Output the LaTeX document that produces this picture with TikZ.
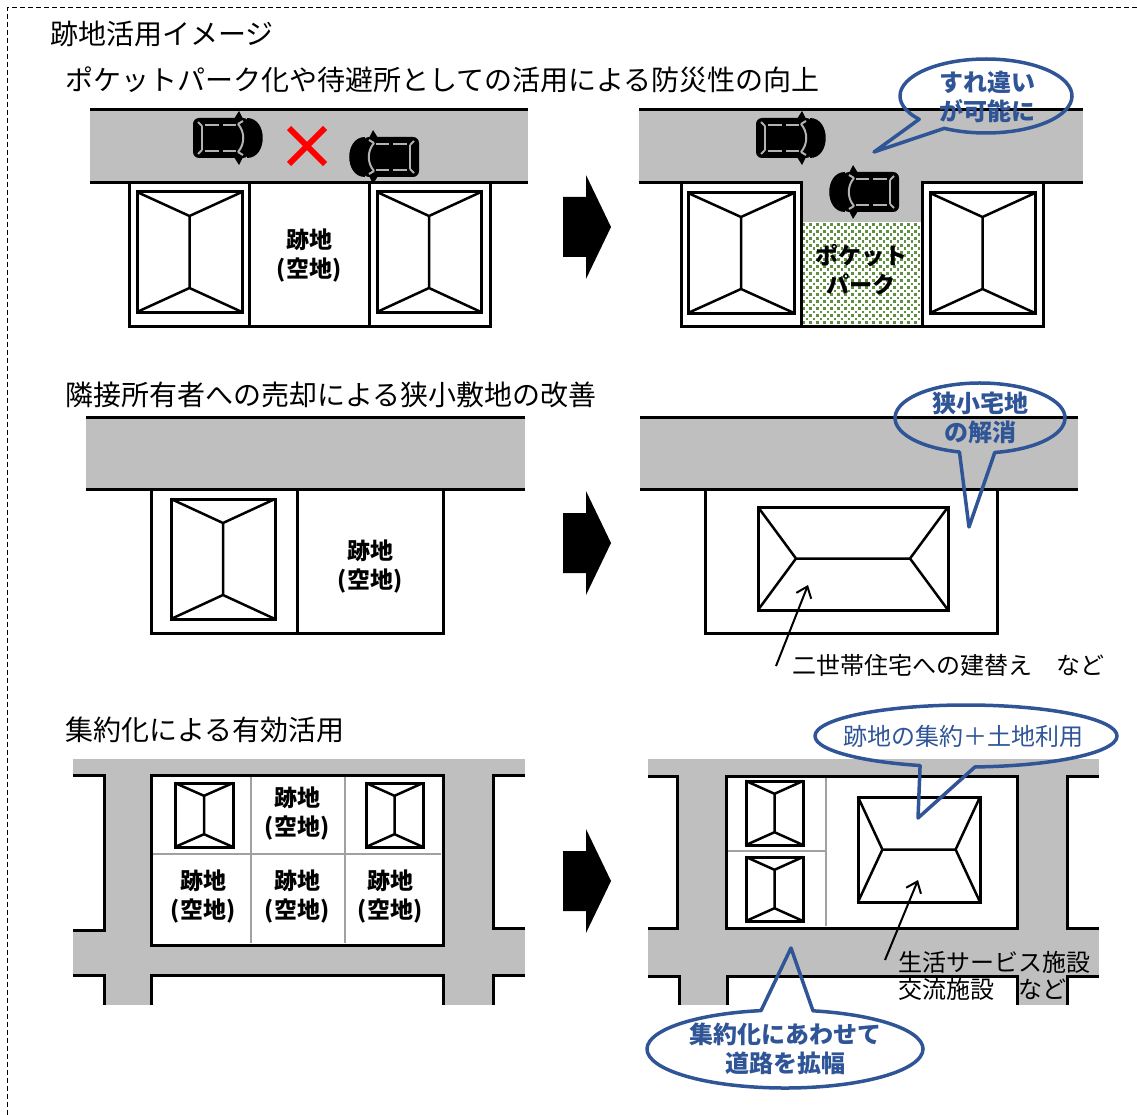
\documentclass[tikz,border=0pt]{standalone}
\usepackage{fontspec}
\setmainfont{Noto Sans CJK JP}
\usetikzlibrary{arrows.meta}

\definecolor{roadgray}{RGB}{191,191,191}
\definecolor{callblue}{RGB}{47,85,151}
\definecolor{parkgreen}{RGB}{94,146,62}

% hip roof, ridge running up-down / left-right
\newcommand\tallhouse[4]{%
  \pgfmathsetmacro\hmid{(#1+#3)/2}%
  \pgfmathsetmacro\hone{#2+0.2*(#4-#2)}%
  \pgfmathsetmacro\htwo{#4-0.2*(#4-#2)}%
  \draw[house] (#1,#2) rectangle (#3,#4);
  \draw[ridge] (#1,#2) -- (\hmid,\hone) -- (#3,#2)
    (\hmid,\hone) -- (\hmid,\htwo)
    (#1,#4) -- (\hmid,\htwo) -- (#3,#4);
}
\newcommand\widehouse[4]{%
  \pgfmathsetmacro\hmid{(#2+#4)/2}%
  \pgfmathsetmacro\hone{#1+0.2*(#3-#1)}%
  \pgfmathsetmacro\htwo{#3-0.2*(#3-#1)}%
  \draw[house] (#1,#2) rectangle (#3,#4);
  \draw[ridge] (#1,#2) -- (\hone,\hmid) -- (#1,#4)
    (\hone,\hmid) -- (\htwo,\hmid)
    (#3,#2) -- (\htwo,\hmid) -- (#3,#4);
}

\begin{document}
\begin{tikzpicture}[x=1pt,y=-1pt,
  road/.style={fill=roadgray},
  border/.style={line width=3pt},
  lot/.style={fill=white, draw, line width=3pt},
  house/.style={fill=white, draw, line width=3pt},
  ridge/.style={line width=2.5pt, line join=round},
  cell/.style={draw=black!37, line width=1.5pt},
  glass/.style={draw=black!30, line width=2pt},
  heading/.style={anchor=west, inner sep=0pt, font=\fontsize{28}{34}\selectfont},
  lbl/.style={align=center, inner sep=0pt, font=\fontsize{23}{29}\selectfont\bfseries},
  note/.style={anchor=west, align=left, inner sep=0pt, font=\fontsize{24}{27}\selectfont},
  calltext/.style={align=center, inner sep=0pt, text=callblue, font=\fontsize{24}{29}\selectfont\bfseries},
  bubble/.style={draw=callblue, line width=3.5pt, line join=round},
  pointer/.style={->, line width=2pt},
  >={Straight Barb[length=10pt,width=16pt]},
  pics/car/.style={code={
    \fill[rounded corners=6] (-36,-20) rectangle (20,20);
    \fill (18,-20) .. controls (39,-20) and (39,20) .. (18,20) -- cycle;
    \fill (5,-19) -- (10,-27) -- (14,-19) -- cycle;
    \fill (5,19) -- (10,27) -- (14,19) -- cycle;
    \draw[glass] (-27,-12) -- (-27,12);
    \draw[glass] (9,-14) .. controls (16,-6) and (16,6) .. (9,14);
    \draw[glass] (-24,-13) -- (-10,-13) (-6,-13) -- (7,-13)
      (-24,13) -- (-10,13) (-6,13) -- (7,13);
    \draw[glass] (-27,-12) -- (-31,-16) (-27,12) -- (-31,16)
      (9,-14) -- (14,-17) (9,14) -- (14,17);
  }}
]
\useasboundingbox (0,0) rectangle (1137,1115);
\draw[dash pattern=on 5pt off 3pt, line width=1pt] (7,1115) -- (7,8) -- (1137,8);

\node[heading] (title) at (50,34) {跡地活用イメージ};
\node[heading] (headA) at (65,80) {ポケットパーク化や待避所としての活用による防災性の向上};
\node[heading] (headB) at (65,395) {隣接所有者への売却による狭小敷地の改善};
\node[heading] (headC) at (65,730) {集約化による有効活用};

% before / after arrows
\foreach \ay in {227,543,881}
  \fill[shift={(0,\ay)}] (563,-30) -- (586,-30) -- (586,-52) -- (611,0)
    -- (586,52) -- (586,30) -- (563,30) -- cycle;

%% pocket park, before
\fill[road] (90,110) rectangle (528,183);
\draw[border] (90,110) -- (528,110) (90,183) -- (528,183);
\draw[lot] (129,183) rectangle (249,326);
\draw[lot] (249,183) rectangle (369,326);
\draw[lot] (369,183) rectangle (490,326);
\tallhouse{137}{192}{242}{312}
\tallhouse{377}{192}{481}{312}
\node[lbl] (vacantA) at (309,256) {跡地\\(空地)};
\pic at (229,138) {car};
\pic[xscale=-1] at (383,157) {car};
\draw[red, line width=6pt] (289,128) -- (325,164) (289,164) -- (325,128);

%% pocket park, after
\fill[road] (639,110) rectangle (1083,183);
\fill[road] (801,183) rectangle (922,222);
\draw[border] (639,110) -- (1083,110) (639,183) -- (681,183) (1043,183) -- (1083,183);
\fill[white] (801,222) rectangle (922,326);
\begin{scope}
  \clip (801,222) rectangle (922,326);
  \foreach \i in {0,...,17} \foreach \j in {0,...,30} {
    \pgfmathsetmacro\px{802+7*\i+3.5*mod(\j,2)}
    \fill[parkgreen] (\px,223+3.5*\j) rectangle ++(2.8,2.8);
  }
\end{scope}
\draw[border] (801,326) -- (922,326);
\draw[lot] (681,183) rectangle (801,326);
\draw[lot] (922,183) rectangle (1043,326);
\tallhouse{688}{193}{794}{313}
\tallhouse{930}{193}{1035}{313}
\node[lbl] (park) at (861,270) {ポケット\\パーク};
\pic at (792,138) {car};
\pic[xscale=-1] at (863,192) {car};

%% sale to neighbour, before
\fill[road] (86,417) rectangle (525,489);
\draw[border] (86,417) -- (525,417) (86,489) -- (525,489);
\draw[lot] (151,489) rectangle (297,633);
\draw[lot] (297,489) rectangle (443,633);
\tallhouse{171}{499}{275}{619}
\node[lbl] (vacantB) at (370,567) {跡地\\(空地)};

%% sale to neighbour, after
\fill[road] (640,417) rectangle (1078,489);
\draw[border] (640,417) -- (1078,417) (640,489) -- (1078,489);
\draw[lot] (705,489) rectangle (997,633);
\widehouse{758}{507}{948}{610}
\node[note] (rebuild) at (792,665) {二世帯住宅への建替え　など};
\coordinate (rebuildFoot) at (776,666);
\coordinate (rebuildTip) at (808,585);
\draw[pointer] (rebuildFoot) -- (rebuildTip);

%% consolidation, before
\fill[road] (73,759) rectangle (525,1005);
\fill[white] (73,775) rectangle (104,930) (73,975) rectangle (104,1005)
  (493,775) rectangle (525,928) (493,975) rectangle (525,1005)
  (151,975) rectangle (443,1005);
\draw[border] (73,775) -- (104,775) -- (104,930) -- (73,930)
  (525,775) -- (493,775) -- (493,928) -- (525,928)
  (73,975) -- (104,975) -- (104,1005)
  (525,975) -- (493,975) -- (493,1005)
  (151,1005) -- (151,975) -- (443,975) -- (443,1005);
\draw[lot] (151,775) rectangle (443,945);
\draw[cell] (251,777) -- (251,943) (345,777) -- (345,943) (153,854) -- (441,854);
\tallhouse{175}{783}{233}{847}
\tallhouse{366}{783}{423}{847}
\node[lbl] (vacantC) at (297,814) {跡地\\(空地)};
\node[lbl] (vacantD) at (203,897) {跡地\\(空地)};
\node[lbl] (vacantE) at (297,897) {跡地\\(空地)};
\node[lbl] (vacantF) at (390,897) {跡地\\(空地)};

%% consolidation, after
\fill[road] (648,759) rectangle (1099,1005);
\fill[white] (648,776) rectangle (677,928) (648,976) rectangle (679,1005)
  (1067,776) rectangle (1099,928) (1067,976) rectangle (1099,1005)
  (727,976) rectangle (1017,1005);
\draw[border] (648,776) -- (677,776) -- (677,928) -- (648,928)
  (1099,776) -- (1067,776) -- (1067,928) -- (1099,928)
  (648,976) -- (679,976) -- (679,1005)
  (1099,976) -- (1067,976) -- (1067,1005)
  (727,1005) -- (727,976) -- (1017,976) -- (1017,1005);
\draw[lot] (726,776) rectangle (1017,928);
\draw[cell] (826,778) -- (826,926) (728,851) -- (826,851);
\tallhouse{746}{781}{803}{845}
\tallhouse{746}{857}{803}{921}
\widehouse{858}{797}{980}{902}
\node[note] (facility) at (898,976) {生活サービス施設\\交流施設　など};
\coordinate (facilityFoot) at (885,960);
\coordinate (facilityTip) at (918,880);
\draw[pointer] (facilityFoot) -- (facilityTip);

%% callouts
\draw[bubble] (986,96) ++(141:86 and 37)
  arc[start angle=141, end angle=479, x radius=86, y radius=37] -- (874,152) -- cycle;
\node[calltext] (passing) at (987,97) {すれ違い\\が可能に};

\draw[bubble] (980,418) ++(104:85 and 35)
  arc[start angle=104, end angle=440, x radius=85, y radius=35] -- (969,527) -- cycle;
\node[calltext] (narrow) at (980,418) {狭小宅地\\の解消};

\draw[bubble] (966,736) ++(107.7:151 and 31)
  arc[start angle=107.7, end angle=446.6, x radius=151, y radius=31] -- (918,818) -- cycle;
\node[calltext, font=\fontsize{24}{29}\selectfont] (gather) at (963,736) {跡地の集約＋土地利用};

\draw[bubble] (785,1049) ++(281.7:138 and 39)
  arc[start angle=281.7, end angle=620, x radius=138, y radius=39] -- (791,948) -- cycle;
\node[calltext] (widen) at (785,1049) {集約化にあわせて\\道路を拡幅};
\end{tikzpicture}
\end{document}
